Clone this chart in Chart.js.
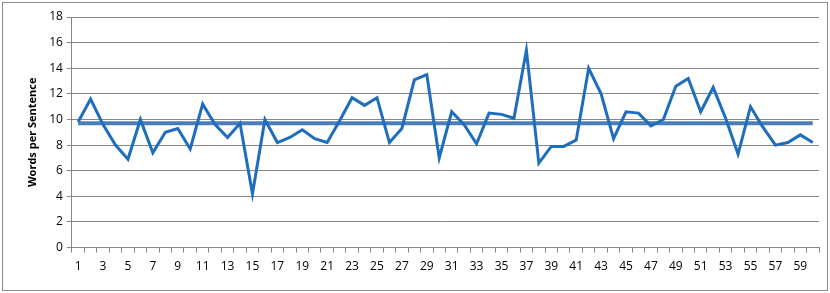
<!DOCTYPE html>
<html lang="en">
<head>
  <meta charset="UTF-8" />
  <title>Words per Sentence</title>
  <script src="https://cdn.jsdelivr.net/npm/chart.js@4.4.1/dist/chart.umd.min.js"></script>
  <style>
    html, body { margin: 0; padding: 0; background: #fff; }
    #wrap { width: 830px; height: 293px; }
  </style>
</head>
<body>
  <div id="wrap"><canvas id="chart" width="830" height="293"></canvas></div>

  <script>
    // sentence numbers 1..60
    const sentences = [
      1, 2, 3, 4, 5, 6, 7, 8, 9, 10, 11, 12, 13, 14, 15, 16, 17, 18, 19, 20,
      21, 22, 23, 24, 25, 26, 27, 28, 29, 30, 31, 32, 33, 34, 35, 36, 37, 38, 39, 40,
      41, 42, 43, 44, 45, 46, 47, 48, 49, 50, 51, 52, 53, 54, 55, 56, 57, 58, 59, 60
    ];
    const wordsPerSentence = [
      9.8, 11.6, 9.6, 8.0, 6.9, 10.0, 7.4, 9.0, 9.3, 7.7,
      11.2, 9.6, 8.6, 9.7, 4.2, 10.0, 8.2, 8.6, 9.2, 8.5,
      8.2, 9.9, 11.7, 11.1, 11.7, 8.2, 9.3, 13.1, 13.5, 7.0,
      10.6, 9.6, 8.1, 10.5, 10.4, 10.1, 15.4, 6.6, 7.9, 7.9,
      8.4, 14.0, 12.0, 8.5, 10.6, 10.5, 9.5, 10.0, 12.6, 13.2,
      10.6, 12.5, 10.1, 7.3, 11.0, 9.4, 8.0, 8.2, 8.8, 8.2
    ];
    const meanValue = 9.7;
    // mean drawn as one straight segment from first to last sentence
    const meanLine = sentences.map((s, i) => (i === 0 || i === sentences.length - 1 ? meanValue : null));
    const yTicks = [0, 2, 4, 6, 8, 10, 12, 14, 16, 18];

    const font = "'Open Sans', 'Liberation Sans', Arial, sans-serif";

    // grey frame round the whole chart, like the spreadsheet chart box
    const frame = {
      id: 'frame',
      afterDraw(chart) {
        const ctx = chart.ctx;
        ctx.save();
        ctx.strokeStyle = '#8c8c8c';
        ctx.lineWidth = 1;
        ctx.strokeRect(2.5, 2.5, chart.width - 5, chart.height - 5);
        ctx.restore();
      }
    };

    new Chart(document.getElementById('chart'), {
      type: 'line',
      data: {
        labels: sentences,
        datasets: [
          {
            label: 'Mean',
            data: meanLine,
            spanGaps: true,
            borderColor: '#4a7ebb',
            borderWidth: 4,
            pointRadius: 0,
            tension: 0,
            order: 2
          },
          {
            label: 'Words per Sentence',
            data: wordsPerSentence,
            borderColor: '#1f6dbd',
            borderWidth: 3,
            pointRadius: 0,
            tension: 0,
            order: 1
          }
        ]
      },
      options: {
        responsive: false,
        animation: false,
        layout: { padding: { top: 17, right: 11, bottom: 12, left: 22 } },
        plugins: {
          legend: { display: false },
          tooltip: { enabled: false }
        },
        scales: {
          x: {
            offset: true,
            grid: {
              display: true,
              offset: true,
              drawOnChartArea: false,
              drawTicks: true,
              tickLength: 5,
              color: '#868686'
            },
            border: { color: '#868686' },
            ticks: {
              autoSkip: false,
              maxRotation: 0,
              padding: 7,
              color: '#000',
              font: { family: font, size: 12 },
              callback: (v, i) => (i % 2 === 0 ? sentences[i] : '')
            }
          },
          y: {
            min: 0,
            max: 18,
            afterBuildTicks: axis => { axis.ticks = yTicks.map(v => ({ value: v })); },
            grid: { color: '#868686', tickLength: 5 },
            border: { color: '#868686' },
            ticks: {
              padding: 4,
              color: '#000',
              font: { family: font, size: 12 }
            },
            title: {
              display: true,
              text: 'Words per Sentence',
              color: '#000',
              font: { family: font, size: 11, weight: 'bold' },
              padding: { bottom: 6 }
            }
          }
        }
      },
      plugins: [frame]
    });
  </script>
</body>
</html>
